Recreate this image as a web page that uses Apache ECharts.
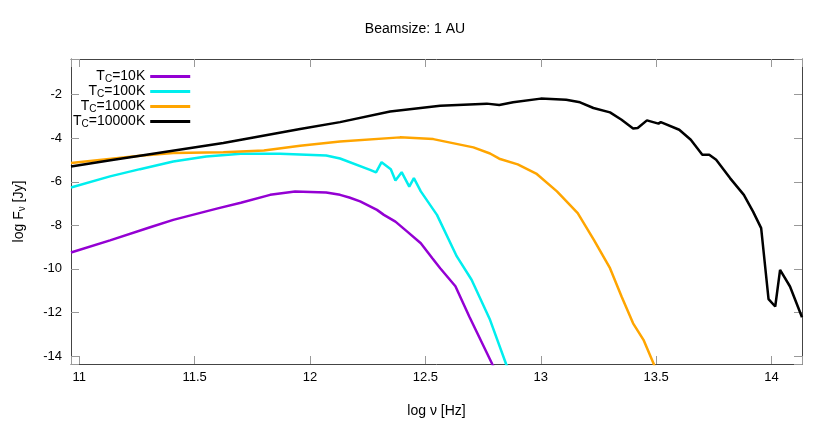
<!DOCTYPE html>
<html>
<head>
  <meta charset="utf-8">
  <title>Beamsize: 1 AU</title>
  <script src="https://cdn.jsdelivr.net/npm/echarts@6/dist/echarts.min.js"></script>
  <style>
    html, body { margin: 0; padding: 0; background: #fff; }
    #chart { width: 830px; height: 427px; }
  </style>
</head>
<body>
<div id="chart"></div>
<script>
  // axis extents (log nu [Hz], log F_nu [Jy])
  var xRange = [10.964, 14.132];
  var yRange = [-14.37, -0.36];

  var names = ['TC=10K', 'TC=100K', 'TC=1000K', 'TC=10000K'];
  var colors = ['#9400d3', '#00eeee', '#ffa500', '#000000'];

  // [log nu, log F_nu]
  var tc10 = [
    [10.964, -9.25], [11.133, -8.69], [11.307, -8.09], [11.407, -7.75], [11.60, -7.22],
    [11.70, -6.96], [11.827, -6.60], [11.935, -6.45], [12.07, -6.49], [12.13, -6.60],
    [12.17, -6.72], [12.217, -6.90], [12.29, -7.29], [12.32, -7.52], [12.37, -7.83],
    [12.42, -8.28], [12.48, -8.82], [12.53, -9.51], [12.564, -9.97], [12.63, -10.8],
    [12.69, -12.19], [12.79, -14.38], [12.82, -15.0]
  ];
  var tc100 = [
    [10.964, -6.26], [11.133, -5.75], [11.263, -5.42], [11.407, -5.07], [11.55, -4.84],
    [11.70, -4.71], [11.87, -4.71], [12.07, -4.79], [12.13, -4.93], [12.26, -5.45],
    [12.286, -5.57], [12.31, -5.10], [12.35, -5.42], [12.37, -5.94], [12.397, -5.56],
    [12.43, -6.22], [12.45, -5.83], [12.48, -6.44], [12.55, -7.52], [12.636, -9.43],
    [12.70, -10.5], [12.78, -12.34], [12.85, -14.38], [12.88, -15.0]
  ];
  var tc1000 = [
    [10.964, -5.14], [11.263, -4.80], [11.407, -4.68], [11.624, -4.64], [11.80, -4.56],
    [11.957, -4.34], [12.13, -4.15], [12.39, -3.96], [12.534, -4.04], [12.708, -4.42],
    [12.78, -4.70], [12.82, -4.94], [12.90, -5.20], [12.98, -5.62], [13.07, -6.44],
    [13.16, -7.44], [13.23, -8.67], [13.30, -9.97], [13.35, -11.27], [13.40, -12.50],
    [13.445, -13.26], [13.49, -14.38], [13.52, -15.2]
  ];
  var tc10000 = [
    [10.964, -5.30], [11.142, -5.00], [11.263, -4.80], [11.624, -4.22], [11.957, -3.58],
    [12.13, -3.26], [12.347, -2.77], [12.564, -2.51], [12.766, -2.41], [12.82, -2.47],
    [12.88, -2.35], [13.0, -2.18], [13.11, -2.23], [13.17, -2.35], [13.228, -2.61],
    [13.30, -2.81], [13.35, -3.15], [13.40, -3.55], [13.42, -3.53], [13.46, -3.18],
    [13.51, -3.33], [13.52, -3.26], [13.60, -3.61], [13.65, -4.07], [13.70, -4.76],
    [13.73, -4.76], [13.76, -4.99], [13.82, -5.83], [13.88, -6.60], [13.92, -7.37],
    [13.955, -8.13], [13.987, -11.39], [14.016, -11.73], [14.037, -10.05], [14.08, -10.81],
    [14.132, -12.22]
  ];
  var seriesData = [tc10, tc100, tc1000, tc10000];

  var font = 'Liberation Sans, Arial, sans-serif';

  function onStep(step) {
    return function (v) {
      var k = v / step;
      return Math.abs(k - Math.round(k)) < 1e-6 ? String(Math.round(v * 10) / 10) : '';
    };
  }

  var border = { show: true, onZero: false, lineStyle: { color: '#444', width: 1 } };
  var ticks = { show: true, inside: true, length: 8, lineStyle: { color: '#999', width: 1 } };

  var chart = echarts.init(document.getElementById('chart'));
  chart.setOption({
    backgroundColor: '#fff',
    animation: false,
    title: {
      text: 'Beamsize: 1 AU',
      left: 'center',
      top: 17,
      textStyle: { fontFamily: font, fontSize: 14, fontWeight: 'normal', color: '#000' }
    },
    legend: {
      orient: 'vertical',
      left: 68,
      top: 63,
      align: 'right',
      icon: 'rect',
      itemWidth: 40,
      itemHeight: 3,
      itemGap: -1,
      data: names,
      formatter: function (n) { return n.replace('TC', 'T{sub|C}'); },
      textStyle: {
        fontFamily: font, fontSize: 14, color: '#000', lineHeight: 15,
        rich: { sub: { fontFamily: font, fontSize: 10, verticalAlign: 'bottom', lineHeight: 15, padding: [6, 0, 0, 0] } }
      }
    },
    grid: { left: 71, right: 28, top: 59, bottom: 63 },
    xAxis: [{
      type: 'value', min: xRange[0], max: xRange[1], splitNumber: 6,
      name: 'log ν [Hz]', nameLocation: 'middle', nameGap: 40,
      nameTextStyle: { fontFamily: font, fontSize: 14, color: '#000' },
      axisLine: border, axisTick: ticks, splitLine: { show: false },
      axisLabel: { fontFamily: font, fontSize: 13, color: '#000', margin: 7, formatter: onStep(0.5) }
    }, {
      type: 'value', position: 'top', min: xRange[0], max: xRange[1], splitNumber: 6,
      axisLine: border, axisTick: ticks, splitLine: { show: false }, axisLabel: { show: false }
    }],
    yAxis: [{
      type: 'value', min: yRange[0], max: yRange[1], splitNumber: 7,
      name: 'log F{sub|ν} [Jy]', nameLocation: 'middle', nameGap: 44, nameRotate: 90,
      nameTextStyle: {
        fontFamily: font, fontSize: 14, color: '#000',
        rich: { sub: { fontFamily: font, fontSize: 10, verticalAlign: 'bottom', padding: [5, 0, 0, 0] } }
      },
      axisLine: border, axisTick: ticks, splitLine: { show: false },
      axisLabel: { fontFamily: font, fontSize: 13, color: '#000', margin: 9, formatter: onStep(2) }
    }, {
      type: 'value', position: 'right', min: yRange[0], max: yRange[1], splitNumber: 7,
      axisLine: border, axisTick: ticks, splitLine: { show: false }, axisLabel: { show: false }
    }],
    series: names.map(function (n, i) {
      return {
        name: n,
        type: 'line',
        data: seriesData[i],
        xAxisIndex: 0,
        yAxisIndex: 0,
        showSymbol: false,
        clip: true,
        color: colors[i],
        lineStyle: { width: 2.5, color: colors[i] }
      };
    })
  });
</script>
</body>
</html>
